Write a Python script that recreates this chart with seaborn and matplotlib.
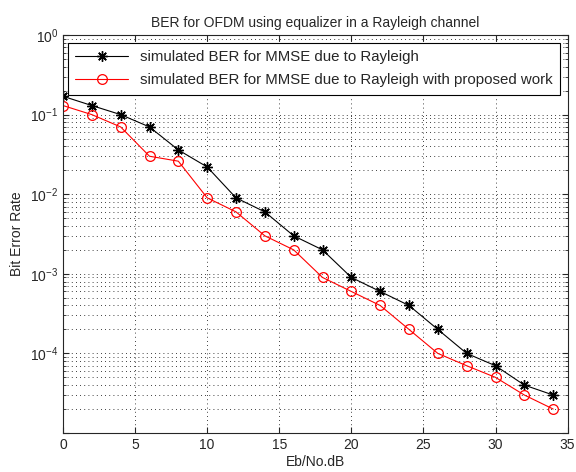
import numpy as np
import matplotlib
matplotlib.use("Agg")
import matplotlib.pyplot as plt
import seaborn as sns
from matplotlib.ticker import LogLocator, NullFormatter, FuncFormatter

sns.set_style("ticks")
plt.rcParams['font.family'] = ['Liberation Sans', 'DejaVu Sans']
plt.rcParams['mathtext.fontset'] = 'custom'
plt.rcParams['mathtext.rm'] = 'Liberation Sans'

# Data
ebno = [0, 2, 4, 6, 8, 10, 12, 14, 16, 18, 20, 22, 24, 26, 28, 30, 32, 34]
ber_mmse = [0.17, 0.13, 0.1, 0.07, 0.036, 0.022, 0.009, 0.006, 0.003, 0.002,
            0.0009, 0.0006, 0.0004, 0.0002, 0.0001, 0.00007, 0.00004, 0.00003]
ber_proposed = [0.13, 0.1, 0.07, 0.03, 0.026, 0.009, 0.006, 0.003, 0.002, 0.0009,
                0.0006, 0.0004, 0.0002, 0.0001, 0.00007, 0.00005, 0.00003, 0.00002]
labels = ['simulated BER for MMSE due to Rayleigh',
          'simulated BER for MMSE due to Rayleigh with proposed work']

fig = plt.figure(figsize=(5.76, 4.72), dpi=100)
ax = fig.add_axes([0.1094, 0.0826, 0.876, 0.8432])

sns.lineplot(x=ebno, y=ber_mmse, color='black', marker=(8, 2, 0),
             markersize=7.5, markeredgewidth=1.0, markeredgecolor='black',
             linewidth=0.8, label=labels[0], ax=ax)
sns.lineplot(x=ebno, y=ber_proposed, color='red', marker='o',
             markersize=7, markerfacecolor='none', markeredgecolor='red',
             markeredgewidth=0.9, linewidth=0.8, label=labels[1], ax=ax)

ax.set_yscale('log')
ax.set_xlim(0, 35)
ax.set_ylim(1e-5, 1e0)
ax.set_xticks(range(0, 36, 5))
ax.yaxis.set_major_locator(LogLocator(base=10, numticks=10))
ax.yaxis.set_minor_locator(LogLocator(base=10, subs=np.arange(2, 10), numticks=20))
ax.yaxis.set_minor_formatter(NullFormatter())
ax.yaxis.set_major_formatter(FuncFormatter(
    lambda v, p: '' if v < 5e-5 else r'$\mathdefault{10^{%d}}$' % round(np.log10(v))))

ax.grid(True, which='major', axis='both', color='black', linestyle=(0, (1, 4)), linewidth=0.6)
ax.grid(True, which='minor', axis='y', color='black', linestyle=(0, (1, 4)), linewidth=0.6)
ax.tick_params(which='both', direction='in', top=True, right=True, labelsize=10)
ax.tick_params(which='major', length=4)
ax.tick_params(which='minor', length=2)
for s in ax.spines.values():
    s.set_linewidth(0.8)
    s.set_visible(True)

ax.set_title('BER for OFDM using equalizer in a Rayleigh channel', fontsize=10)
ax.set_xlabel('Eb/No.dB', fontsize=10, labelpad=2)
ax.set_ylabel('Bit Error Rate', fontsize=10)

leg = ax.legend(loc='upper right', fontsize=10.8, frameon=True, fancybox=False,
                edgecolor='black', borderaxespad=0.5, handlelength=3.5,
                borderpad=0.5, labelspacing=0.6)
leg.get_frame().set_linewidth(0.8)
leg.get_frame().set_alpha(1)

fig.savefig('out.png', dpi=100, facecolor='white')
